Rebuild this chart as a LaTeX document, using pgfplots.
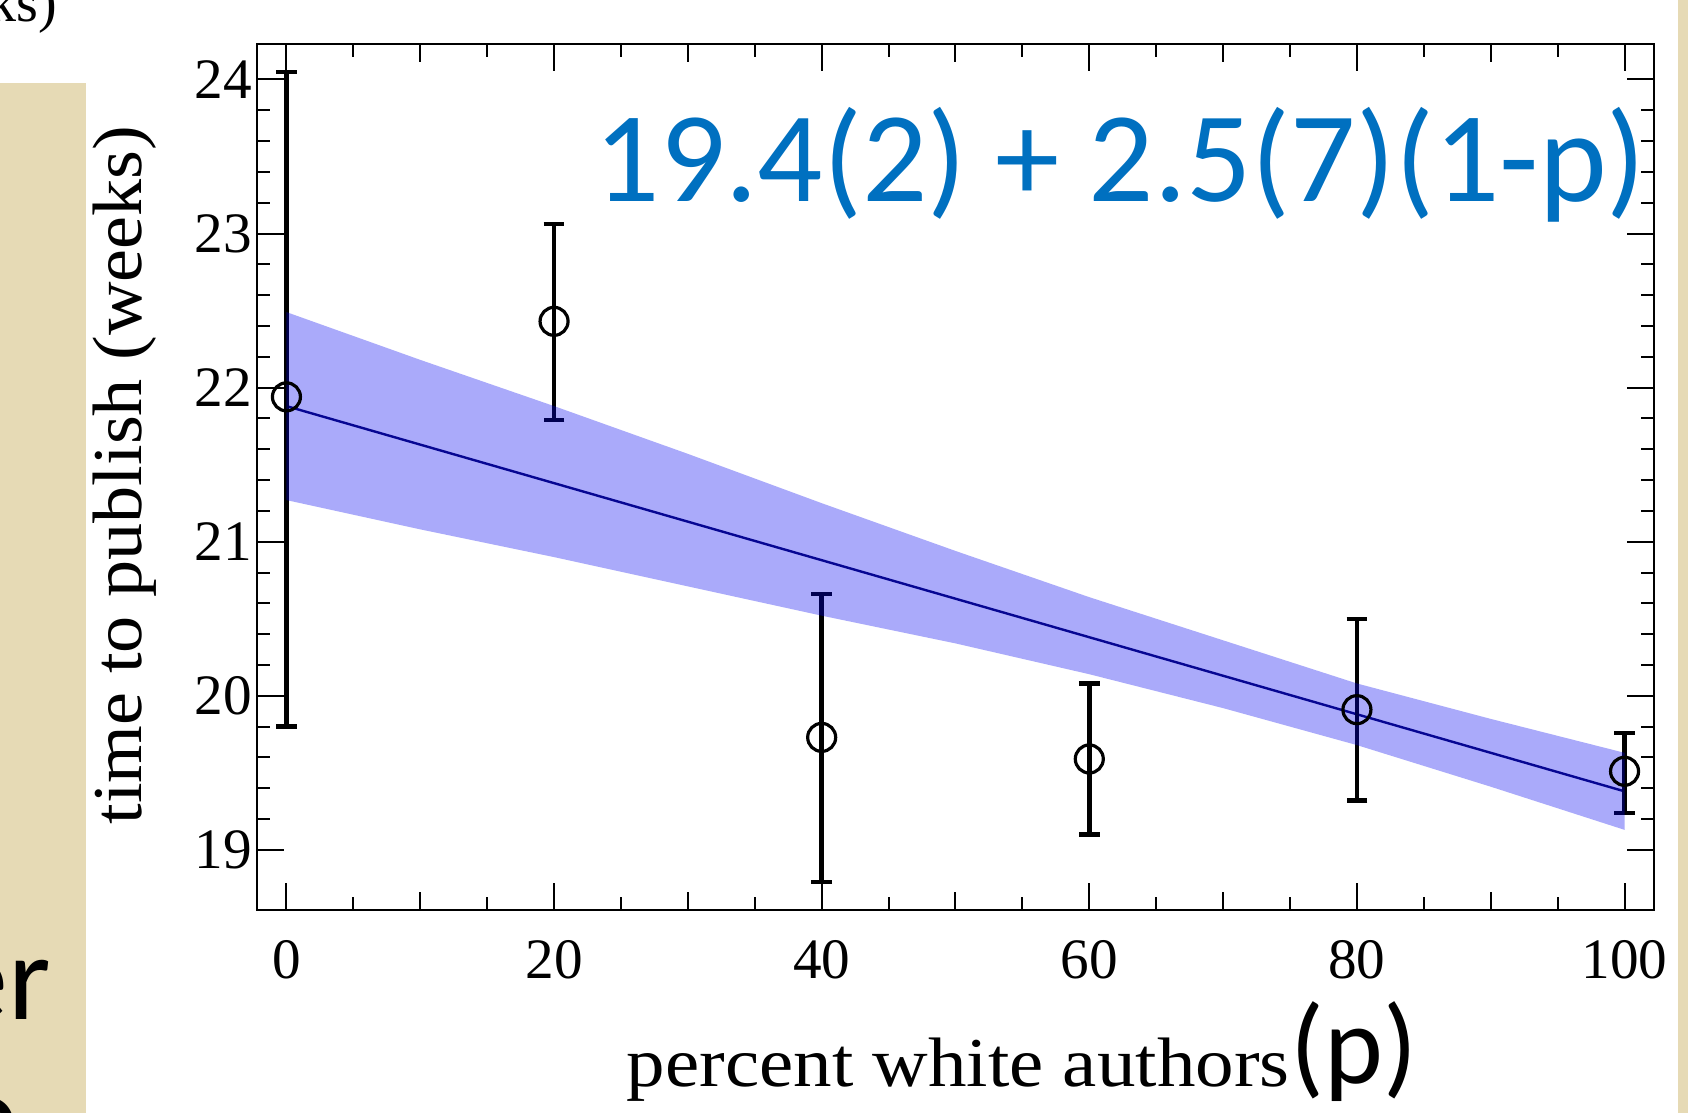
\documentclass[border=0pt]{standalone}
\usepackage{fontspec}
\setmainfont{Liberation Serif}
\newfontfamily\calibri{Carlito}
\newfontfamily\ylabfont[FakeStretch=1.06]{Liberation Serif}
\newfontfamily\xlabfont[FakeStretch=1.10]{Liberation Serif}
\usepackage{pgfplots}
\pgfplotsset{compat=1.18}
\definecolor{slidebeige}{RGB}{230,218,181}
\definecolor{fitblue}{RGB}{0,112,192}
\definecolor{bandblue}{RGB}{0,0,240}
\definecolor{linenavy}{RGB}{10,10,100}

\begin{document}
\begin{tikzpicture}
\useasboundingbox (0,0) rectangle (424.25pt,278.25pt);
\fill[white] (0,0) rectangle (424.25pt,278.25pt);
% slide background pieces around the chart
\fill[slidebeige] (0,0) rectangle (21.5pt,257.5pt);
\fill[slidebeige] (419.5pt,0) rectangle (422pt,278.25pt);
\node[anchor=base east, inner sep=0, font=\fontsize{14}{14}\selectfont] at (14.5pt,272.75pt) {ks)};
\node[anchor=base east, inner sep=0, font=\calibri\fontsize{30.5}{30.5}\selectfont] at (13pt,23.25pt) {er};
\node[anchor=base east, inner sep=0, font=\calibri\fontsize{30.5}{30.5}\selectfont] at (5pt,-11pt) {o};

\begin{axis}[
  at={(64.25pt,50.75pt)}, anchor=south west,
  scale only axis, width=349.25pt, height=216.5pt,
  xmin=-2.2, xmax=102.2, ymin=18.61, ymax=24.23,
  xtick={0,20,...,100}, ytick={19,...,24},
  minor x tick num=3, minor y tick num=4,
  extra x ticks={10,30,50,70,90}, extra x tick labels={},
  extra x tick style={major tick length=4.5pt},
  major tick length=6.8pt, minor tick length=3.2pt,
  tick style={black, line width=0.5pt},
  axis line style={line width=0.6pt},
  tick label style={font=\fontsize{14.3}{14.3}\selectfont},
  /pgf/number format/assume math mode=true,
  xticklabel style={yshift=-4pt},
  yticklabel style={xshift=2.2pt},
]
  % fitted line
  \addplot[linenavy, line width=0.6pt] coordinates {(0,21.88) (100,19.38)};
  % measured means with error bars
  \addplot[only marks, mark=o, mark size=3.5pt, mark options={line width=0.8pt}, black,
    error bars/.cd, y dir=both, y explicit,
    error bar style={line width=1.1pt},
    error mark options={rotate=90, mark size=2.6pt, line width=1.1pt}]
  coordinates {
    (0,21.94)   += (0,2.11) -= (0,2.14)
    (20,22.43)  += (0,0.63) -= (0,0.64)
    (40,19.73)  += (0,0.93) -= (0,0.94)
    (60,19.59)  += (0,0.49) -= (0,0.49)
    (80,19.91)  += (0,0.59) -= (0,0.59)
    (100,19.51) += (0,0.25) -= (0,0.27)
  };
  % confidence band, drawn over the points
  \addplot[fill=bandblue, fill opacity=0.333, draw=none] coordinates {
    (0,22.49) (10,22.18) (20,21.88) (30,21.57) (40,21.25) (50,20.94)
    (60,20.64) (70,20.36) (80,20.08) (90,19.85) (100,19.63)
    (100,19.13) (90,19.41) (80,19.68) (70,19.92) (60,20.14) (50,20.34)
    (40,20.52) (30,20.71) (20,20.90) (10,21.08) (0,21.27)
  } -- cycle;
\end{axis}

\node[anchor=base west, inner sep=0, text=fitblue, font=\calibri\fontsize{32.2}{32.2}\selectfont] at (148.5pt,227.75pt) {19.4(2) + 2.5(7)(1-p)};
\node[rotate=90, anchor=base, inner sep=0, font=\ylabfont\fontsize{17.5}{17.5}\selectfont] at (35.5pt,159.5pt) {time to publish (weeks)};
\node[anchor=base west, inner sep=0, font=\xlabfont\fontsize{17.5}{17.5}\selectfont] at (156.5pt,6.5pt) {percent white authors};
\node[anchor=base west, inner sep=0, font=\calibri\fontsize{28}{28}\selectfont] at (322.5pt,7.25pt) {(p)};
\end{tikzpicture}
\end{document}
